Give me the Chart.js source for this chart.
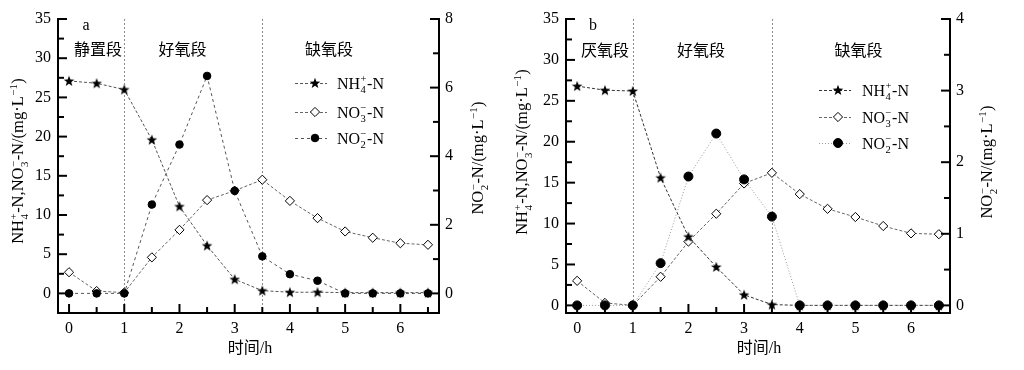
<!DOCTYPE html>
<html><head><meta charset="utf-8">
<script src="https://cdn.jsdelivr.net/npm/chart.js@4"></script>
<style>
html,body{margin:0;padding:0;background:#fff;width:1024px;height:370px;overflow:hidden}
canvas{position:absolute;top:0}
#ca{left:0}
#cb{left:505px}
</style></head><body>
<canvas id="ca" width="505" height="370"></canvas>
<canvas id="cb" width="519" height="370"></canvas>
<script>
// ---- data ----
const time = [0,0.5,1,1.5,2,2.5,3,3.5,4,4.5,5,5.5,6,6.5];
const a_nh4 = [27.1,26.8,26.0,19.6,11.1,6.1,1.8,0.35,0.15,0.15,0.1,0.1,0.1,0.1];
const a_no3 = [2.7,0.3,0.1,4.6,8.1,11.9,13.1,14.5,11.8,9.6,7.9,7.1,6.4,6.2];
const a_no2 = [0,0,0,2.59,4.34,6.34,2.99,1.08,0.56,0.37,0,0,0,0];
const b_nh4 = [26.8,26.3,26.2,15.6,8.4,4.7,1.3,0.1,0,0,0,0,0,0];
const b_no3 = [3.0,0.3,0.0,3.5,7.8,11.2,14.9,16.2,13.6,11.8,10.8,9.7,8.8,8.7];
const b_no2 = [0,0,0,0.59,1.80,2.40,1.76,1.24,0,0,0,0,0,0];
const xTicks = [0,1,2,3,4,5,6];
const xMinor = [0.5,1.5,2.5,3.5,4.5,5.5,6.5];
const yLeftTicks = [0,5,10,15,20,25,30,35];
const yLeftMinor = [2.5,7.5,12.5,17.5,22.5,27.5,32.5];
const a_yRightTicks = [0,2,4,6,8];
const a_yRightMinor = [1,3,5,7];
const b_yRightTicks = [0,1,2,3,4];
const b_yRightMinor = [0.5,1.5,2.5,3.5];
const phaseBounds = [1,3.5];
const a_phases = ['静置段','好氧段','缺氧段'];
const b_phases = ['厌氧段','好氧段','缺氧段'];
const xTitle = '时间/h';

// ---- helpers ----
const SERIF = '"Liberation Serif","DejaVu Serif",serif';
const CJK = '"Liberation Serif","Noto Sans CJK SC",sans-serif';
const starImg = (() => {
  const c = document.createElement('canvas'); c.width = 12; c.height = 12;
  const g = c.getContext('2d'); g.fillStyle = '#000'; g.beginPath();
  for (let i = 0; i < 10; i++) {
    const r = i % 2 ? 2.3 : 5.6; const ang = -Math.PI/2 + i*Math.PI/5;
    g.lineTo(6 + r*Math.cos(ang), 6.4 + r*Math.sin(ang));
  }
  g.closePath(); g.fill(); return c;
})();

const lblNH4 = ['NH',{sub:'4',sup:'+'},'-N'];
const lblNO3 = ['NO',{sub:'3',sup:'−'},'-N'];
const lblNO2 = ['NO',{sub:'2',sup:'−'},'-N'];
const titleLeft = ['NH',{sub:'4',sup:'+'},'-N,NO',{sub:'3',sup:'−'},'-N/(mg·L',{sup:'−1'},')'];
const titleRight = ['NO',{sub:'2',sup:'−'},'-N/(mg·L',{sup:'−1'},')'];

function richWidth(ctx, segs, size) {
  let w = 0;
  for (const s of segs) {
    if (typeof s === 'string') { ctx.font = size + 'px ' + SERIF; w += ctx.measureText(s).width; }
    else { ctx.font = (size*0.66) + 'px ' + SERIF;
      w += Math.max(s.sub ? ctx.measureText(s.sub).width : 0, s.sup ? ctx.measureText(s.sup).width : 0) + 1; }
  }
  return w;
}
function drawRich(ctx, segs, x, y, size) { // x = left, y = baseline
  ctx.textAlign = 'left'; ctx.textBaseline = 'alphabetic'; ctx.fillStyle = '#000';
  let cx = x;
  for (const s of segs) {
    if (typeof s === 'string') { ctx.font = size + 'px ' + SERIF; ctx.fillText(s, cx, y); cx += ctx.measureText(s).width; }
    else {
      ctx.font = (size*0.66) + 'px ' + SERIF;
      let w = 0;
      cx += 0.5;
      if (s.sub) { ctx.fillText(s.sub, cx, y + size*0.28); w = Math.max(w, ctx.measureText(s.sub).width); }
      if (s.sup) { ctx.fillText(s.sup, cx, y - size*0.42); w = Math.max(w, ctx.measureText(s.sup).width); }
      cx += w + 0.5;
    }
  }
}
function drawVertRich(ctx, segs, cx, cy, size) {
  ctx.save(); ctx.translate(cx, cy); ctx.rotate(-Math.PI/2);
  const w = richWidth(ctx, segs, size);
  drawRich(ctx, segs, -w/2, size*0.33, size);
  ctx.restore();
}
function drawMarker(ctx, ds, x, y) {
  const st = ds.pointStyle;
  if (st instanceof HTMLCanvasElement) { ctx.drawImage(st, x - st.width/2, y - st.height/2); return; }
  ctx.beginPath();
  const r = ds.pointRadius;
  if (st === 'rectRot') { ctx.moveTo(x, y - r); ctx.lineTo(x + r, y); ctx.lineTo(x, y + r); ctx.lineTo(x - r, y); ctx.closePath(); }
  else { ctx.arc(x, y, r, 0, Math.PI*2); }
  ctx.setLineDash([]); ctx.fillStyle = ds.pointBackgroundColor; ctx.fill();
  ctx.lineWidth = 1; ctx.strokeStyle = '#000'; ctx.stroke();
}

const annotPlugin = {
  id: 'annot',
  beforeDatasetsDraw(chart) {
    const o = chart.options.plugins.annot; const ctx = chart.ctx; const ca = chart.chartArea; const xs = chart.scales.x;
    ctx.save(); ctx.strokeStyle = '#8a8a8a'; ctx.lineWidth = 1; ctx.setLineDash([2,2]);
    for (const b of o.bounds) { const px = Math.round(xs.getPixelForValue(b)) + 0.5;
      ctx.beginPath(); ctx.moveTo(px, ca.top); ctx.lineTo(px, ca.bottom); ctx.stroke(); }
    ctx.restore();
  },
  afterDraw(chart) {
    const o = chart.options.plugins.annot; const ctx = chart.ctx; const ca = chart.chartArea;
    const {x, yL, yR} = chart.scales;
    ctx.save();
    // inward ticks
    ctx.strokeStyle = '#000'; ctx.lineWidth = 2; ctx.setLineDash([]);
    const seg = (x1,y1,x2,y2) => { ctx.beginPath(); ctx.moveTo(x1,y1); ctx.lineTo(x2,y2); ctx.stroke(); };
    for (const v of xTicks) { const p = x.getPixelForValue(v); seg(p, ca.bottom, p, ca.bottom - 9); }
    for (const v of xMinor) { const p = x.getPixelForValue(v); seg(p, ca.bottom, p, ca.bottom - 6); }
    for (const v of yLeftTicks) { const p = yL.getPixelForValue(v); seg(ca.left, p, ca.left + 9, p); }
    for (const v of yLeftMinor) { const p = yL.getPixelForValue(v); seg(ca.left, p, ca.left + 6, p); }
    for (const v of o.rTicks) { const p = yR.getPixelForValue(v); seg(ca.right, p, ca.right - 9, p); }
    for (const v of o.rMinor) { const p = yR.getPixelForValue(v); seg(ca.right, p, ca.right - 6, p); }
    // panel letter and phase labels
    ctx.fillStyle = '#000'; ctx.textBaseline = 'middle'; ctx.textAlign = 'center';
    ctx.font = '16px ' + SERIF; ctx.fillText(o.letter, o.letterPos[0], o.letterPos[1]);
    ctx.font = '16px ' + CJK;
    o.phases.forEach((t, i) => ctx.fillText(t, o.phasePos[i][0], o.phasePos[i][1]));
    // x title
    ctx.font = '16px ' + CJK; ctx.fillText(xTitle, o.xTitlePos[0], o.xTitlePos[1]);
    // y titles
    drawVertRich(ctx, titleLeft, o.lTitlePos[0], o.lTitlePos[1], 16.5);
    drawVertRich(ctx, titleRight, o.rTitlePos[0], o.rTitlePos[1], 16.5);
    // legend
    const labels = [lblNH4, lblNO3, lblNO2];
    chart.data.datasets.forEach((ds, i) => {
      const yy = o.legend.rows[i];
      ctx.save(); ctx.strokeStyle = ds.borderColor; ctx.lineWidth = 1; ctx.setLineDash(ds.borderDash);
      seg(o.legend.x1, yy + 0.5, o.legend.x2, yy + 0.5); ctx.restore();
      drawMarker(ctx, ds, o.legend.mx, yy);
      drawRich(ctx, labels[i], o.legend.tx, yy + 5.5, 16);
    });
    ctx.restore();
  }
};

function series(vals) { return time.map((t, i) => ({x: t, y: vals[i]})); }

function makeChart(id, p) {
  const W = p.W;
  const fixTicks = arr => scale => { scale.ticks = arr.map(v => ({value: v})); };
  const tickFont = {family: SERIF, size: 16};
  new Chart(document.getElementById(id), {
    type: 'line',
    data: { datasets: [
      { label: 'NH4+-N', data: series(p.nh4), yAxisID: 'yL', borderColor: p.c[0], borderDash: p.d[0], borderWidth: 1,
        pointStyle: starImg, pointRadius: 6, pointBackgroundColor: '#000', pointBorderColor: '#000', order: 1 },
      { label: 'NO3--N', data: series(p.no3), yAxisID: 'yL', borderColor: p.c[1], borderDash: p.d[1], borderWidth: 1,
        pointStyle: 'rectRot', pointRadius: 4.6, pointBackgroundColor: '#fff', pointBorderColor: '#000', pointBorderWidth: 1, order: 2 },
      { label: 'NO2--N', data: series(p.no2), yAxisID: 'yR', borderColor: p.c[2], borderDash: p.d[2], borderWidth: 1,
        pointStyle: 'circle', pointRadius: p.cr, pointBackgroundColor: '#000', pointBorderColor: '#000', pointBorderWidth: 1, order: 0 }
    ]},
    options: {
      responsive: false, animation: false, events: [], devicePixelRatio: 1,
      layout: { padding: {top: 19, left: 0, right: 0, bottom: 0} },
      plugins: { legend: {display: false}, tooltip: {enabled: false}, title: {display: false},
        annot: p.annot },
      scales: {
        x: { type: 'linear', min: -0.2, max: 6.7, position: 'bottom',
          grid: {display: false, drawTicks: false}, border: {display: true, color: '#000', width: 2},
          ticks: {font: tickFont, color: '#000', padding: 6, maxRotation: 0},
          afterBuildTicks: fixTicks(xTicks), afterFit: s => { s.height = 370 - p.bottom; } },
        yL: { type: 'linear', position: 'left', min: p.lMin, max: 35,
          grid: {display: false, drawTicks: false}, border: {display: true, color: '#000', width: 2},
          ticks: {font: tickFont, color: '#000', padding: 7},
          afterBuildTicks: fixTicks(yLeftTicks), afterFit: s => { s.width = p.left; } },
        yR: { type: 'linear', position: 'right', min: p.rMin, max: p.rMax,
          grid: {display: false, drawTicks: false}, border: {display: true, color: '#000', width: 2},
          ticks: {font: tickFont, color: '#000', padding: 6},
          afterBuildTicks: fixTicks(p.annot.rTicks), afterFit: s => { s.width = W - p.right; } }
      }
    },
    plugins: [annotPlugin]
  });
}

makeChart('ca', {
  W: 505, left: 58, right: 439, bottom: 313,
  nh4: a_nh4, no3: a_no3, no2: a_no2,
  lMin: -2.5, rMin: -0.5714, rMax: 8, cr: 3.8,
  c: ['#555','#666','#555'], d: [[3,2],[3,2],[3,3]],
  annot: { bounds: phaseBounds, rTicks: a_yRightTicks, rMinor: a_yRightMinor,
    letter: 'a', letterPos: [86, 26], phases: a_phases, phasePos: [[98,51],[182.5,51],[329,51]],
    xTitlePos: [250, 349], lTitlePos: [18, 161], rTitlePos: [478, 158],
    legend: {x1: 295, x2: 327, mx: 315, tx: 337, rows: [83, 112, 138]} }
});
makeChart('cb', {
  W: 519, left: 61, right: 445, bottom: 313,
  nh4: b_nh4, no3: b_no3, no2: b_no2,
  lMin: -0.93, rMin: -0.1063, rMax: 4, cr: 4.5,
  c: ['#333','#666','#999'], d: [[3,2],[3,2],[1,2]],
  annot: { bounds: phaseBounds, rTicks: b_yRightTicks, rMinor: b_yRightMinor,
    letter: 'b', letterPos: [88, 26], phases: b_phases, phasePos: [[100,52],[196,52],[353.5,52]],
    xTitlePos: [254, 349], lTitlePos: [17, 152], rTitlePos: [482, 162],
    legend: {x1: 314, x2: 346, mx: 333, tx: 357, rows: [90, 117, 143]} }
});
</script>
</body></html>
